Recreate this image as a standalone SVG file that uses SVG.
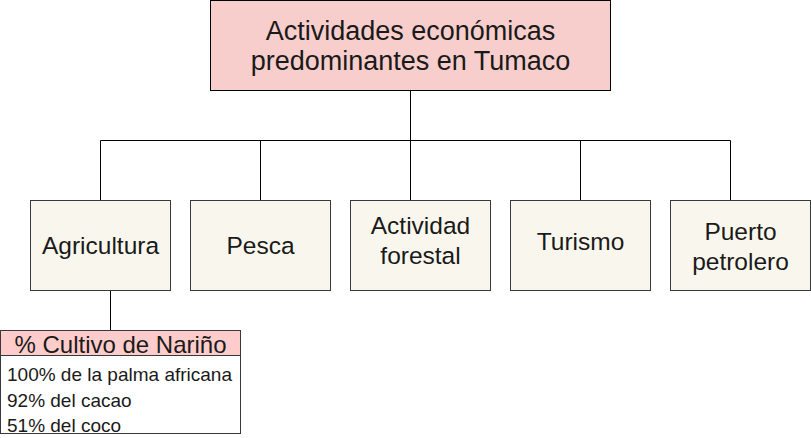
<svg xmlns="http://www.w3.org/2000/svg" width="811" height="438" viewBox="0 0 811 438">
<style>
.t{font-family:"Liberation Sans",Arial,sans-serif;fill:#1a1a1a;text-anchor:middle}
.child{fill:#f9f7ed;stroke:#36393d;stroke-width:1}
.c{fill:none;stroke:#000;stroke-width:1}
</style>
<rect width="811" height="438" fill="#fff"/>
<g id="connectors">
<path class="c" d="M410.5 90.5V140.5"/>
<path class="c" d="M100.5 200.5V140.5H730.5V200.5"/>
<path class="c" d="M260.5 140.5V200.5"/>
<path class="c" d="M580.5 140.5V200.5"/>
<path class="c" d="M410.5 140.5V200.5"/>
<path class="c" d="M110.5 290.5V330.5"/>
</g>
<g id="root">
<rect x="210.5" y="0.5" width="400" height="90" fill="#f8cecc" stroke="#000"/>
<text class="t" x="410.5" y="40" font-size="27">Actividades económicas</text>
<text class="t" x="410.5" y="69.5" font-size="27">predominantes en Tumaco</text>
</g>
<g id="agricultura">
<rect class="child" x="30.5" y="200.5" width="140" height="90"/>
<text class="t" x="100.5" y="254" font-size="24.5">Agricultura</text>
</g>
<g id="pesca">
<rect class="child" x="190.5" y="200.5" width="140" height="90"/>
<text class="t" x="260.5" y="254" font-size="24.5">Pesca</text>
</g>
<g id="forestal">
<rect class="child" x="350.5" y="200.5" width="140" height="90"/>
<text class="t" x="420.5" y="234" font-size="24.5">Actividad</text>
<text class="t" x="420.5" y="264" font-size="24.5">forestal</text>
</g>
<g id="turismo">
<rect class="child" x="510.5" y="200.5" width="140" height="90"/>
<text class="t" x="580.5" y="250" font-size="24.5">Turismo</text>
</g>
<g id="puerto">
<rect class="child" x="670.5" y="200.5" width="140" height="90"/>
<text class="t" x="740.5" y="240" font-size="24.5">Puerto</text>
<text class="t" x="740.5" y="270" font-size="24.5">petrolero</text>
</g>
<g id="cultivo">
<rect x="0.5" y="330.5" width="240" height="103" fill="#fff" stroke="#36393d"/>
<rect x="0.5" y="330.5" width="240" height="25" fill="#ffcccc" stroke="#36393d"/>
<text class="t" x="120.5" y="353" font-size="24">% Cultivo de Nariño</text>
<text class="t" x="7" y="381" font-size="19" style="text-anchor:start">100% de la palma africana</text>
<text class="t" x="7" y="407" font-size="19" style="text-anchor:start">92% del cacao</text>
<text class="t" x="7" y="432" font-size="19" style="text-anchor:start">51% del coco</text>
</g>
</svg>
